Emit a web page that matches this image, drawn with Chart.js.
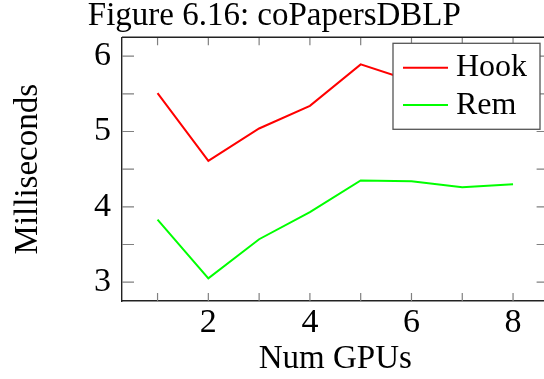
<!DOCTYPE html>
<html>
<head>
<meta charset="utf-8">
<script src="https://cdn.jsdelivr.net/npm/chart.js@4/dist/chart.umd.min.js"></script>
<style>
  html, body { margin: 0; padding: 0; background: #fff; overflow: hidden; }
  #wrap { width: 544px; height: 379px; overflow: hidden; }
  canvas { display: block; }
</style>
</head>
<body>
<div id="wrap"><canvas id="c" width="552" height="379"></canvas></div>
<script>
// Run time (ms) of the two connected-components variants per GPU count
const gpus = [1, 2, 3, 4, 5, 6, 7, 8];
const hook = [5.51, 4.61, 5.04, 5.34, 5.89, 5.67, 5.72, 5.78];
const rem  = [3.83, 3.05, 3.57, 3.93, 4.35, 4.34, 4.26, 4.30];

// Tick positions and the labels printed at them
const xTicks = [1, 2, 3, 4, 5, 6, 7, 8];
const xTickLabels = ['', '2', '', '4', '', '6', '', '8'];
const yTicks = [3, 3.5, 4, 4.5, 5, 5.5, 6];
const yTickLabels = ['3', '', '4', '', '5', '', '6'];

const FONT = '"Liberation Serif", "Times New Roman", serif';

// Inward tick marks on all four sides plus the top/right frame
const frameTicks = {
  id: 'frameTicks',
  afterDatasetsDraw(chart) {
    const { ctx, chartArea: a, scales: { x, y } } = chart;
    ctx.save();
    ctx.strokeStyle = '#808080';
    ctx.lineWidth = 1.2;
    ctx.beginPath();
    x.ticks.forEach(t => {
      const px = x.getPixelForValue(t.value);
      ctx.moveTo(px, a.bottom); ctx.lineTo(px, a.bottom - 8);
      ctx.moveTo(px, a.top); ctx.lineTo(px, a.top + 8);
    });
    y.ticks.forEach(t => {
      const py = y.getPixelForValue(t.value);
      ctx.moveTo(a.left, py); ctx.lineTo(a.left + 12, py);
      ctx.moveTo(a.right, py); ctx.lineTo(a.right - 12, py);
    });
    ctx.stroke();
    ctx.strokeStyle = '#222';
    ctx.lineWidth = 1.4;
    ctx.beginPath();
    ctx.moveTo(a.left, a.top); ctx.lineTo(a.right, a.top); ctx.lineTo(a.right, a.bottom);
    ctx.stroke();
    ctx.restore();
  }
};

// Boxed legend in the upper-right corner of the plot area
const boxLegend = {
  id: 'boxLegend',
  afterDraw(chart) {
    const { ctx, chartArea: a } = chart;
    const w = 147, h = 86;
    const bx = a.right - 8.6 - w, by = a.top + 6;
    ctx.save();
    ctx.fillStyle = '#fff';
    ctx.fillRect(bx, by, w, h);
    ctx.strokeStyle = '#555';
    ctx.lineWidth = 1.3;
    ctx.strokeRect(bx, by, w, h);
    ctx.font = '32px ' + FONT;
    ctx.textBaseline = 'middle';
    ctx.textAlign = 'left';
    chart.data.datasets.forEach((ds, i) => {
      const cy = by + 24.5 + i * 37.3;
      ctx.strokeStyle = ds.borderColor;
      ctx.lineWidth = 2;
      ctx.beginPath();
      ctx.moveTo(bx + 10, cy); ctx.lineTo(bx + 55, cy);
      ctx.stroke();
      ctx.fillStyle = '#000';
      ctx.fillText(ds.label, bx + 63, cy);
    });
    ctx.restore();
  }
};

new Chart(document.getElementById('c'), {
  type: 'line',
  data: {
    labels: gpus,
    datasets: [
      { label: 'Hook', data: gpus.map((g, i) => ({ x: g, y: hook[i] })),
        borderColor: '#ff0000', borderWidth: 2, pointRadius: 0, tension: 0, fill: false },
      { label: 'Rem', data: gpus.map((g, i) => ({ x: g, y: rem[i] })),
        borderColor: '#00ff00', borderWidth: 2, pointRadius: 0, tension: 0, fill: false }
    ]
  },
  options: {
    responsive: false,
    animation: false,
    layout: { padding: { left: 0, right: 3.4, top: 0, bottom: 0 } },
    plugins: {
      legend: { display: false },
      tooltip: { enabled: false },
      title: {
        display: true,
        text: 'Figure 6.16: coPapersDBLP',
        color: '#000',
        font: { family: FONT, size: 33, weight: 'normal', lineHeight: 1.0 },
        padding: { top: 0, bottom: 4.3 }
      }
    },
    scales: {
      x: {
        type: 'linear',
        min: 0.3, max: 8.7,
        afterBuildTicks: s => { s.ticks = xTicks.map(v => ({ value: v })); },
        afterFit: s => { s.height = 78; },
        ticks: {
          autoSkip: false,
          maxRotation: 0,
          padding: 2,
          color: '#000',
          font: { family: FONT, size: 34 },
          callback: v => xTickLabels[xTicks.indexOf(v)] ?? ''
        },
        grid: { display: false, drawTicks: false },
        border: { display: true, color: '#222', width: 1.4 },
        title: {
          display: true, text: 'Num GPUs', color: '#000',
          font: { family: FONT, size: 33 },
          padding: { top: 0, bottom: 0 }
        }
      },
      y: {
        min: 2.75, max: 6.25,
        afterBuildTicks: s => { s.ticks = yTicks.map(v => ({ value: v })); },
        afterFit: s => { s.width = 122; },
        ticks: {
          autoSkip: false,
          padding: 11,
          color: '#000',
          font: { family: FONT, size: 34 },
          callback: v => yTickLabels[yTicks.indexOf(v)] ?? ''
        },
        grid: { display: false, drawTicks: false },
        border: { display: true, color: '#222', width: 1.4 },
        title: {
          display: true, text: 'Milliseconds', color: '#000',
          font: { family: FONT, size: 33 },
          padding: { top: 8.2, bottom: 0 }
        }
      }
    }
  },
  plugins: [frameTicks, boxLegend]
});
</script>
</body>
</html>
